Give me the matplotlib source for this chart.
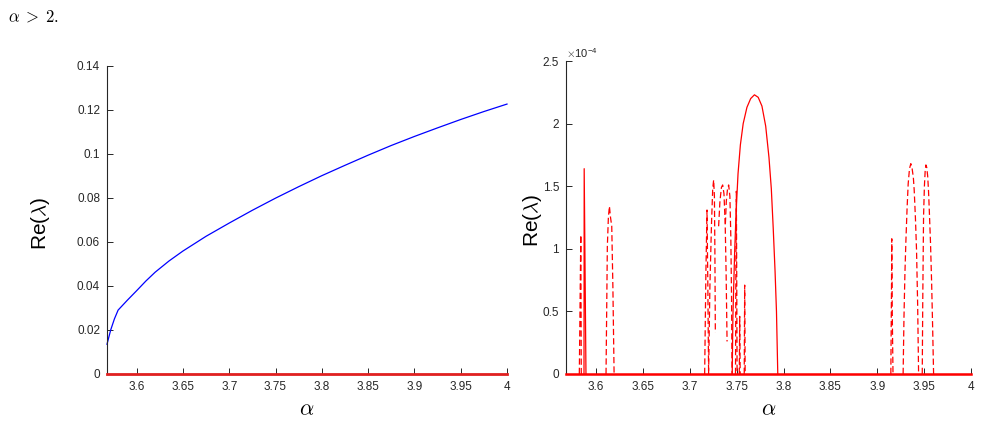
import matplotlib
matplotlib.use("Agg")
import matplotlib.pyplot as plt
from matplotlib.ticker import FixedLocator

plt.rcParams['font.family'] = ['Liberation Sans', 'DejaVu Sans']
plt.rcParams['mathtext.fontset'] = 'cm'

# ---------------- data ----------------
x_min, x_max = 3.568, 4.0
x_ticks = [3.6, 3.65, 3.7, 3.75, 3.8, 3.85, 3.9, 3.95, 4.0]
x_tick_labels = ['3.6', '3.65', '3.7', '3.75', '3.8', '3.85', '3.9', '3.95', '4']

# left panel: unstable branch (blue) and zero branch (red)
left_alpha = [3.568, 3.572, 3.576, 3.580, 3.59, 3.6, 3.61, 3.62, 3.635, 3.65, 3.675, 3.7,
              3.725, 3.75, 3.775, 3.8, 3.825, 3.85, 3.875, 3.9, 3.925, 3.95, 3.975, 4.0]
left_re = [0.0135, 0.020, 0.025, 0.029, 0.0335, 0.0378, 0.0422, 0.0462, 0.0513, 0.0558, 0.0625, 0.0685,
           0.0743, 0.0798, 0.085, 0.090, 0.0947, 0.0993, 0.1037, 0.1078, 0.1117, 0.1155, 0.1191, 0.1225]
zero_alpha = [3.568, 4.0]
zero_re = [0.0, 0.0]
left_yticks = [0, 0.02, 0.04, 0.06, 0.08, 0.1, 0.12, 0.14]
left_ytick_labels = ['0', '0.02', '0.04', '0.06', '0.08', '0.1', '0.12', '0.14']

# right panel (values in units of 1e-4)
solid_edge_a = [3.568, 3.5684]
solid_edge_v = [0.33, 0.0]
solid_spike_a = [3.5872, 3.5874, 3.5893]
solid_spike_v = [0.0, 1.64, 0.0]
solid_hump_a = [3.7453, 3.746, 3.747, 3.748, 3.7495, 3.7515, 3.754, 3.757, 3.761, 3.765, 3.769,
                3.773, 3.777, 3.781, 3.7845, 3.787, 3.789, 3.791, 3.7925, 3.7939]
solid_hump_v = [0.0, 0.45, 0.73, 1.0, 1.3, 1.6, 1.83, 2.0, 2.13, 2.2, 2.23,
                2.21, 2.14, 1.98, 1.73, 1.48, 1.17, 0.82, 0.5, 0.0]

dashed_branches = [
    ([3.5822, 3.5832, 3.5838, 3.5843], [0.0, 0.7, 1.11, 0.0]),
    ([3.6107, 3.6121, 3.6132, 3.6143, 3.6155, 3.6168, 3.618, 3.6193],
     [0.0, 1.02, 1.25, 1.34, 1.25, 1.18, 0.7, 0.0]),
    ([3.7159, 3.7172, 3.7184, 3.7193, 3.7201], [0.0, 0.8, 1.31, 0.7, 0.0]),
    ([3.7201, 3.7215, 3.7232, 3.7245, 3.7255, 3.7263, 3.7268, 3.7273],
     [0.0, 0.7, 1.2, 1.48, 1.55, 1.42, 1.0, 0.33]),
    ([3.7308, 3.7322, 3.7338, 3.7351, 3.7365, 3.7378, 3.7388, 3.7398],
     [1.18, 1.38, 1.49, 1.51, 1.44, 1.2, 0.8, 0.26]),
    ([3.738, 3.739, 3.7403, 3.7415, 3.7428, 3.7438, 3.7446, 3.7451],
     [1.2, 1.38, 1.48, 1.51, 1.42, 1.1, 0.6, 0.0]),
    ([3.7488, 3.7493, 3.7497, 3.7501, 3.7505], [0.0, 1.0, 1.46, 0.8, 0.0]),
    ([3.7528, 3.7533, 3.7538], [0.0, 0.46, 0.0]),
    ([3.7581, 3.7586, 3.7591], [0.0, 0.71, 0.0]),
    ([3.9145, 3.9152, 3.9155, 3.916, 3.9168], [0.0, 0.7, 1.08, 0.5, 0.0]),
    ([3.9276, 3.9285, 3.9295, 3.9305, 3.9318, 3.933, 3.9344, 3.9358, 3.9372, 3.9385,
      3.9394, 3.9407, 3.9419, 3.9431, 3.9441],
     [0.0, 0.45, 0.8, 1.05, 1.32, 1.52, 1.64, 1.68, 1.64, 1.57, 1.47, 1.25, 0.99, 0.55, 0.0]),
    ([3.948, 3.9485, 3.949, 3.9494, 3.9503, 3.9511, 3.9519, 3.9528, 3.9538, 3.9547,
      3.9555, 3.9568, 3.958, 3.959, 3.9601],
     [0.0, 0.55, 0.95, 1.26, 1.5, 1.62, 1.67, 1.65, 1.58, 1.46, 1.31, 1.05, 0.73, 0.4, 0.0]),
]
right_yticks = [0, 0.5, 1, 1.5, 2, 2.5]
right_ytick_labels = ['0', '0.5', '1', '1.5', '2', '2.5']

# ---------------- figure ----------------
W, H = 981, 424
fig = plt.figure(figsize=(W / 100, H / 100), dpi=100)

def px_axes(l, r, t, b):
    return fig.add_axes([l / W, 1 - b / H, (r - l) / W, (b - t) / H])

axL = px_axes(107, 507, 65.5, 374)
axR = px_axes(566, 971, 61, 374)

spine_col = '#262626'
for ax in (axL, axR):
    for s in ('top', 'right'):
        ax.spines[s].set_visible(False)
    for s in ('left', 'bottom'):
        ax.spines[s].set_color(spine_col)
        ax.spines[s].set_linewidth(0.8)
    ax.tick_params(direction='in', length=4, width=0.7, colors=spine_col,
                   labelsize=8.5, labelcolor='#262626', pad=5)
    ax.set_xlim(x_min, x_max)
    ax.xaxis.set_major_locator(FixedLocator(x_ticks))
    ax.set_xticklabels(x_tick_labels)
    ax.set_xlabel(r'$\alpha$', fontsize=16, va='center')
    ax.set_ylabel(r'Re($\lambda$)', fontsize=15, va='center')

# left
axL.plot(left_alpha, left_re, color='blue', lw=0.9, clip_on=False)
axL.plot(zero_alpha, zero_re, color='#e02020', lw=2.0, clip_on=False, zorder=3)
axL.set_ylim(0, 0.14)
axL.yaxis.set_major_locator(FixedLocator(left_yticks))
axL.set_yticklabels(left_ytick_labels)
axL.yaxis.set_label_coords(-0.165, 0.49)
axL.xaxis.set_label_coords(0.5, -0.115)

# right
red = '#ff0000'
axR.plot(zero_alpha, zero_re, color=red, lw=1.8, clip_on=False, zorder=3)
axR.plot(solid_edge_a, solid_edge_v, color=red, lw=0.9)
axR.plot(solid_spike_a, solid_spike_v, color=red, lw=0.9)
axR.plot(solid_hump_a, solid_hump_v, color=red, lw=0.9)
for a, v in dashed_branches:
    axR.plot(a, v, color=red, lw=0.9, dashes=(5, 2.5))
axR.set_ylim(0, 2.5)
axR.yaxis.set_major_locator(FixedLocator(right_yticks))
axR.set_yticklabels(right_ytick_labels)
axR.yaxis.set_label_coords(-0.082, 0.49)
axR.xaxis.set_label_coords(0.5, -0.115)
axR.text(0.0, 1.003, r'$\times\mathregular{10^{-4}}$', transform=axR.transAxes,
         fontsize=8, color='#262626', ha='left', va='bottom')

fig.text(8 / W, 1 - 22 / H, r'$\alpha\;>\;2.$', fontsize=12, ha='left', va='baseline')

fig.savefig('out.png', dpi=100)
